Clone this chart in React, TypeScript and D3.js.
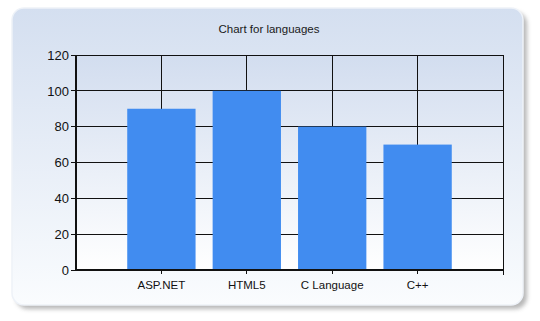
import React from "react";
import * as d3 from "d3";

const categories = ["ASP.NET", "HTML5", "C Language", "C++"];
const values = [90, 100, 80, 70];
const yTicks = [0, 20, 40, 60, 80, 100, 120];
const title = "Chart for languages";

export default function App() {
  const W = 540, H = 321;
  const plot = { left: 76, top: 55, right: 503, bottom: 270 };
  const x = d3.scaleLinear().domain([0, categories.length + 1]).range([plot.left, plot.right]);
  const y = d3.scaleLinear().domain([0, 120]).range([plot.bottom, plot.top]);
  const band = x(1) - x(0);
  const barW = band * 0.8;
  const font = "'Liberation Sans', Arial, sans-serif";

  return (
    <svg width={W} height={H} style={{ position: "absolute", left: 0, top: 0 }}>
      <defs>
        <linearGradient id="cardBg" x1="0" y1="0" x2="0" y2="1">
          <stop offset="0" stopColor="#d4dff0" />
          <stop offset="1" stopColor="#fafcfe" />
        </linearGradient>
        <linearGradient id="plotBg" x1="0" y1="0" x2="0" y2="1">
          <stop offset="0" stopColor="#d2ddef" />
          <stop offset="1" stopColor="#ffffff" />
        </linearGradient>
        <filter id="shadow" x="-10%" y="-10%" width="120%" height="120%">
          <feGaussianBlur stdDeviation="2" />
        </filter>
      </defs>
      <rect x={0} y={0} width={W} height={H} fill="#ffffff" />
      <rect x={16} y={12} width={511} height={297} rx={12} fill="#9a9a9a" opacity={0.7} filter="url(#shadow)" />
      <rect x={12} y={8} width={511} height={297} rx={12} fill="url(#cardBg)" stroke="#eef2f8" strokeWidth={1.5} />
      <text x={269} y={33} textAnchor="middle" fontFamily={font} fontSize={11.5} fill="#1a1a1a">{title}</text>
      <rect x={plot.left} y={plot.top} width={plot.right - plot.left} height={plot.bottom - plot.top} fill="url(#plotBg)" />
      {/* horizontal gridlines */}
      {yTicks.map((t) => (
        <line key={"h" + t} x1={plot.left - 5} x2={plot.right} y1={y(t)} y2={y(t)} stroke="#111" strokeWidth={1} shapeRendering="crispEdges" />
      ))}
      {/* vertical gridlines */}
      {categories.map((c, i) => (
        <line key={"v" + c} x1={x(i + 1)} x2={x(i + 1)} y1={plot.top} y2={plot.bottom + 4} stroke="#111" strokeWidth={1} shapeRendering="crispEdges" />
      ))}
      {/* bars */}
      {categories.map((c, i) => (
        <rect key={"b" + c} x={x(i + 1) - barW / 2} y={y(values[i])} width={barW} height={y(0) - y(values[i])} fill="#418cf0" />
      ))}
      {/* plot border */}
      <line x1={plot.right} x2={plot.right} y1={plot.top} y2={plot.bottom + 5} stroke="#111" shapeRendering="crispEdges" />
      <line x1={plot.left} x2={plot.left} y1={plot.top} y2={plot.bottom} stroke="#111" strokeWidth={1.5} shapeRendering="crispEdges" />
      <line x1={plot.left} x2={plot.right} y1={plot.bottom} y2={plot.bottom} stroke="#111" strokeWidth={1.5} shapeRendering="crispEdges" />
      {/* y tick labels */}
      {yTicks.map((t) => (
        <text key={"yl" + t} x={plot.left - 7} y={y(t)} dy="0.36em" textAnchor="end" fontFamily={font} fontSize={13} fill="#111">{t}</text>
      ))}
      {/* x labels */}
      {categories.map((c, i) => (
        <text key={"xl" + c} x={x(i + 1)} y={plot.bottom + 19} textAnchor="middle" fontFamily={font} fontSize={11.5} fill="#111">{c}</text>
      ))}
    </svg>
  );
}
